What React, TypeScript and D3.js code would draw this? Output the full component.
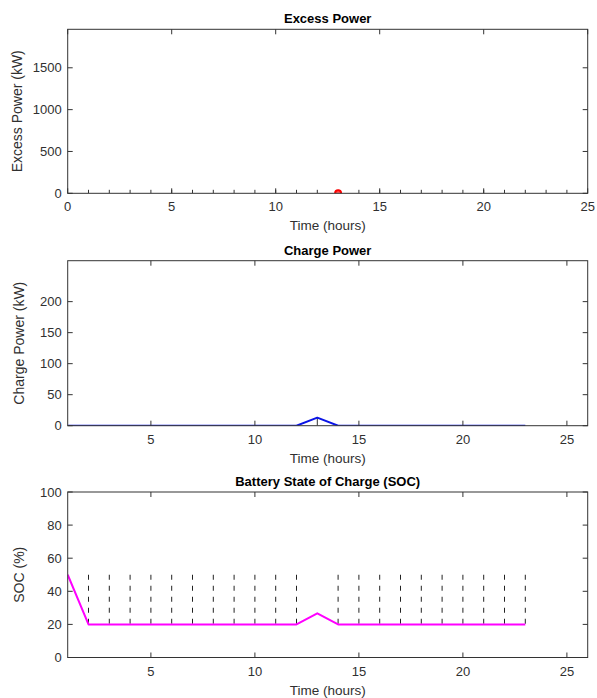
import React from "react";
import * as d3 from "d3";

// ---------- Data ----------
const hours = [1, 2, 3, 4, 5, 6, 7, 8, 9, 10, 11, 12, 13, 14, 15, 16, 17, 18, 19, 20, 21, 22, 23];
const excessMarkHours = [1, 2, 3, 4, 5, 6, 7, 8, 9, 10, 11, 12, 13, 14, 15, 16, 17, 18, 19, 20, 21, 22, 23, 24];
const excessPointHour = [13];
const excessPointValue = [0];
const chargePower = [0, 0, 0, 0, 0, 0, 0, 0, 0, 0, 0, 0, 13, 0, 0, 0, 0, 0, 0, 0, 0, 0, 0];
const socValues = [50, 20, 20, 20, 20, 20, 20, 20, 20, 20, 20, 20, 26.7, 20, 20, 20, 20, 20, 20, 20, 20, 20, 20];
const socMarkerHours = [2, 3, 4, 5, 6, 7, 8, 9, 10, 11, 12, 14, 15, 16, 17, 18, 19, 20, 21, 22, 23];
const socMarkerLow = [20];
const socMarkerHigh = [50];

const xTicks1 = [0, 5, 10, 15, 20, 25];
const xTicks23 = [5, 10, 15, 20, 25];
const yTicks1 = [0, 500, 1000, 1500];
const yTicks2 = [0, 50, 100, 150, 200];
const yTicks3 = [0, 20, 40, 60, 80, 100];

const titles = ["Excess Power", "Charge Power", "Battery State of Charge (SOC)"];
const yLabels = ["Excess Power (kW)", "Charge Power (kW)", "SOC (%)"];
const xLabel = "Time (hours)";

// ---------- Layout ----------
const W = 597;
const H = 698;
const L = 67.7;
const R = 587.7;
const FONT = "'Liberation Sans', Arial, Helvetica, sans-serif";
const AX = "#333333";
const TXT = "#303030";
const TICK = 5;

interface PanelProps {
  idx: number;
  top: number;
  bottom: number;
  xDomain: [number, number];
  yDomain: [number, number];
  xTicks: number[];
  yTicks: number[];
  ylabelX: number;
  children: (x: d3.ScaleLinear<number, number>, y: d3.ScaleLinear<number, number>) => React.ReactNode;
}

function Panel({ idx, top, bottom, xDomain, yDomain, xTicks, yTicks, ylabelX, children }: PanelProps) {
  const x = d3.scaleLinear().domain(xDomain).range([L, R]);
  const y = d3.scaleLinear().domain(yDomain).range([bottom, top]);
  const clipId = `clip${idx}`;
  return (
    <g>
      <defs>
        <clipPath id={clipId}>
          <rect x={L} y={top} width={R - L} height={bottom - top} />
        </clipPath>
      </defs>
      <g clipPath={`url(#${clipId})`}>{children(x, y)}</g>
      {xTicks.map((t) => (
        <g key={`xt${t}`}>
          <line x1={x(t)} x2={x(t)} y1={bottom} y2={bottom - TICK} stroke={AX} strokeWidth={1} />
          <line x1={x(t)} x2={x(t)} y1={top} y2={top + TICK} stroke={AX} strokeWidth={1} />
          <text x={x(t)} y={bottom + 18} textAnchor="middle" fontSize={13} fill={TXT} fontFamily={FONT}>
            {t}
          </text>
        </g>
      ))}
      {yTicks.map((t) => (
        <g key={`yt${t}`}>
          <line x1={L} x2={L + TICK} y1={y(t)} y2={y(t)} stroke={AX} strokeWidth={1} />
          <line x1={R} x2={R - TICK} y1={y(t)} y2={y(t)} stroke={AX} strokeWidth={1} />
          <text x={L - 6} y={y(t) + 4.5} textAnchor="end" fontSize={13} fill={TXT} fontFamily={FONT}>
            {t}
          </text>
        </g>
      ))}
      <rect x={L} y={top} width={R - L} height={bottom - top} fill="none" stroke={AX} strokeWidth={1} />
      <text x={(L + R) / 2} y={top - 6} textAnchor="middle" fontSize={13} fontWeight="bold" fill="#000" fontFamily={FONT}>
        {titles[idx]}
      </text>
      <text x={(L + R) / 2} y={bottom + 37} textAnchor="middle" fontSize={13.5} fill={TXT} fontFamily={FONT}>
        {xLabel}
      </text>
      <text
        transform={`translate(${ylabelX},${(top + bottom) / 2}) rotate(-90)`}
        textAnchor="middle"
        fontSize={14}
        fill={TXT}
        fontFamily={FONT}
      >
        {yLabels[idx]}
      </text>
    </g>
  );
}

export default function App() {
  const lineGen = (x: d3.ScaleLinear<number, number>, y: d3.ScaleLinear<number, number>, vals: number[]) =>
    d3
      .line<number>()
      .x((_, i) => x(hours[i]))
      .y((v) => y(v))(vals) || "";

  return (
    <svg
      width={W}
      height={H}
      style={{ position: "absolute", left: 0, top: 0, background: "#fff" }}
      xmlns="http://www.w3.org/2000/svg"
    >
      <rect x={0} y={0} width={W} height={H} fill="#fff" />
      <Panel idx={0} top={29.3} bottom={193.3} xDomain={[0, 25]} yDomain={[0, 1960]} xTicks={xTicks1} yTicks={yTicks1} ylabelX={22}>
        {(x, y) => (
          <g>
            {excessMarkHours.map((h) => (
              <line key={h} x1={x(h)} x2={x(h)} y1={y(0)} y2={y(0) - 3.5} stroke={AX} strokeWidth={1} />
            ))}
            {excessPointHour.map((h, i) => (
              <circle key={h} cx={x(h)} cy={y(excessPointValue[i])} r={3} fill="#ff6060" stroke="#ff0000" strokeWidth={2} />
            ))}
          </g>
        )}
      </Panel>
      <Panel idx={1} top={260.7} bottom={425.7} xDomain={[1, 26]} yDomain={[0, 266]} xTicks={xTicks23} yTicks={yTicks2} ylabelX={24}>
        {(x, y) => (
          <g>
            {hours.map((h, i) =>
              chargePower[i] > 0 ? (
                <line key={h} x1={x(h)} x2={x(h)} y1={y(0)} y2={y(chargePower[i])} stroke={AX} strokeWidth={1} />
              ) : null
            )}
            <path d={lineGen(x, y, chargePower)} fill="none" stroke="#0a14e6" strokeWidth={2} strokeLinejoin="round" />
          </g>
        )}
      </Panel>
      <Panel idx={2} top={492} bottom={657.5} xDomain={[1, 26]} yDomain={[0, 100]} xTicks={xTicks23} yTicks={yTicks3} ylabelX={24}>
        {(x, y) => (
          <g>
            {socMarkerHours.map((h) => (
              <line
                key={h}
                x1={x(h)}
                x2={x(h)}
                y1={y(socMarkerHigh[0])}
                y2={y(socMarkerLow[0])}
                stroke="#222"
                strokeWidth={1}
                strokeDasharray="5,6"
              />
            ))}
            <path d={lineGen(x, y, socValues)} fill="none" stroke="#ff00ff" strokeWidth={2} strokeLinejoin="round" />
          </g>
        )}
      </Panel>
    </svg>
  );
}
